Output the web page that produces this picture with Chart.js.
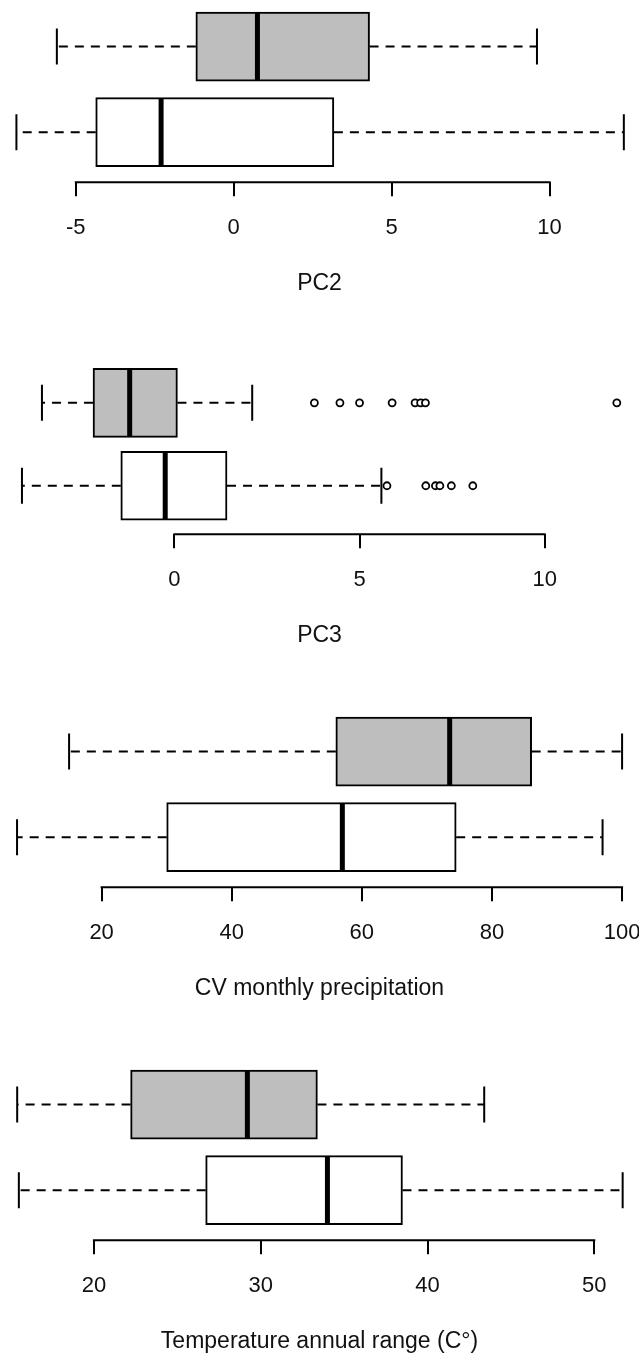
<!DOCTYPE html>
<html>
<head>
<meta charset="utf-8">
<script src="https://cdn.jsdelivr.net/npm/chart.js@4.4.1/dist/chart.umd.min.js"></script>
<style>
  html, body { margin: 0; padding: 0; background: #fff; width: 639px; height: 1355px; overflow: hidden; }
  .panel { position: absolute; left: -40px; width: 719px; }
</style>
</head>
<body>
<div class="panel" style="top:0px"><canvas id="pc2"></canvas></div>
<div class="panel" style="top:352px"><canvas id="pc3"></canvas></div>
<div class="panel" style="top:705px"><canvas id="cv"></canvas></div>
<div class="panel" style="top:1058px"><canvas id="temp"></canvas></div>
<script>
// box stats: [lower whisker, Q1, median, Q3, upper whisker]
// first row = grey box (top), second row = white box (bottom)
const pc2Grey = [-5.6, -1.2, 0.75, 4.3, 9.6];
const pc2White = [-6.88, -4.37, -2.3, 3.17, 12.35];
const pc2Ticks = [-5, 0, 5, 10];

const pc3Grey = [-3.58, -2.2, -1.21, 0.08, 2.1];
const pc3White = [-4.12, -1.45, -0.25, 1.42, 5.59];
const pc3GreyOut = [3.78, 4.47, 5.0, 5.88, 6.5, 6.65, 6.78, 11.95];
const pc3WhiteOut = [5.74, 6.79, 7.05, 7.17, 7.48, 8.06];
const pc3Ticks = [0, 5, 10];

const cvGrey = [15.0, 56.0, 73.5, 86.1, 100.0];
const cvWhite = [7.0, 30.0, 57.0, 74.5, 97.0];
const cvTicks = [20, 40, 60, 80, 100];

const tempGrey = [15.4, 22.2, 29.2, 33.4, 43.4];
const tempWhite = [15.5, 26.7, 34.0, 38.5, 51.7];
const tempTicks = [20, 30, 40, 50];

const titles = ["PC2", "PC3", "CV monthly precipitation", "Temperature annual range (C\u00B0)"];

// visible value range across the 639px page width, per panel
const pc2View = [-7.40, 12.83];
const pc3View = [-4.574, 12.41];
const cvView = [4.38, 102.6];
const tempView = [14.37, 52.68];

const PAGE_W = 639, BLEED = 40;
const AXIS_Y = 182;      // axis line position inside each canvas
const ROW_STEP = 85.5;   // px between the two boxes
const FIRST_ROW = 46.5;  // px from canvas top to grey box centre
const BOX_H = 69;
const CANVAS_H = 299;

const boxParts = {
  id: "boxParts",
  beforeDatasetsDraw(chart, args, opts) {
    const { ctx } = chart;
    const x = chart.scales.x, y = chart.scales.y;
    ctx.save();
    ctx.strokeStyle = "#000";
    ctx.lineWidth = 2;
    opts.stats.forEach((s, i) => {
      const py = y.getPixelForValue(i + 1);
      ctx.setLineDash([9, 7]);
      ctx.beginPath();
      ctx.moveTo(x.getPixelForValue(s[1]), py);
      ctx.lineTo(x.getPixelForValue(s[0]), py);
      ctx.moveTo(x.getPixelForValue(s[3]), py);
      ctx.lineTo(x.getPixelForValue(s[4]), py);
      ctx.stroke();
      ctx.setLineDash([]);
      ctx.beginPath();
      [s[0], s[4]].forEach(v => {
        const px = x.getPixelForValue(v);
        ctx.moveTo(px, py - 18);
        ctx.lineTo(px, py + 18);
      });
      ctx.stroke();
    });
    // R-style axis line, only from first to last tick
    const t = opts.ticks;
    const ay = chart.chartArea.bottom;
    ctx.beginPath();
    ctx.moveTo(x.getPixelForValue(t[0]) - 1, ay);
    ctx.lineTo(x.getPixelForValue(t[t.length - 1]) + 1, ay);
    ctx.stroke();
    ctx.restore();
  },
  afterDatasetsDraw(chart, args, opts) {
    const { ctx } = chart;
    const x = chart.scales.x, y = chart.scales.y;
    ctx.save();
    ctx.strokeStyle = "#000";
    ctx.lineWidth = 5;
    opts.stats.forEach((s, i) => {
      const py = y.getPixelForValue(i + 1);
      const px = x.getPixelForValue(s[2]);
      ctx.beginPath();
      ctx.moveTo(px, py - BOX_H / 2 + 1);
      ctx.lineTo(px, py + BOX_H / 2 - 1);
      ctx.stroke();
    });
    ctx.restore();
  }
};

function drawPanel(id, title, grey, white, ticks, view, greyOut, whiteOut) {
  const canvas = document.getElementById(id);
  canvas.width = PAGE_W + 2 * BLEED;
  canvas.height = CANVAS_H;
  const perPx = (view[1] - view[0]) / PAGE_W;
  const yMin = 1 - FIRST_ROW / ROW_STEP;
  const yMax = yMin + AXIS_Y / ROW_STEP;

  const datasets = [{
    type: "bar",
    data: [{ y: 1, x: [grey[1], grey[3]] }, { y: 2, x: [white[1], white[3]] }],
    backgroundColor: ["#bebebe", "#ffffff"],
    borderColor: "#000",
    borderWidth: 2,
    borderSkipped: false,
    barThickness: BOX_H
  }];
  const outliers = [];
  (greyOut || []).forEach(v => outliers.push({ x: v, y: 1 }));
  (whiteOut || []).forEach(v => outliers.push({ x: v, y: 2 }));
  if (outliers.length) {
    datasets.push({
      type: "scatter",
      data: outliers,
      pointRadius: 3.5,
      pointBorderWidth: 1.8,
      pointBorderColor: "#000",
      pointBackgroundColor: "#fff"
    });
  }

  new Chart(canvas, {
    type: "bar",
    data: { datasets },
    plugins: [boxParts],
    options: {
      responsive: false,
      animation: false,
      events: [],
      indexAxis: "y",
      layout: { padding: 0 },
      scales: {
        x: {
          type: "linear",
          position: "bottom",
          bounds: "data",
          min: view[0] - BLEED * perPx,
          max: view[1] + BLEED * perPx,
          afterBuildTicks: s => { s.ticks = ticks.map(v => ({ value: v })); },
          grid: { drawOnChartArea: false, drawTicks: true, tickLength: 14, color: "#000", lineWidth: 2 },
          border: { display: false },
          ticks: {
            padding: 18.8,
            color: "#111",
            font: { family: "'Liberation Sans', Arial, sans-serif", size: 22 },
            callback: v => String(v),
            maxRotation: 0,
            autoSkip: false
          },
          title: {
            display: true,
            text: title,
            color: "#111",
            font: { family: "'Liberation Sans', Arial, sans-serif", size: 23 },
            padding: { top: 9.2, bottom: 2 }
          }
        },
        y: {
          type: "linear",
          reverse: true,
          offset: false,
          min: yMin,
          max: yMax,
          display: false
        }
      },
      plugins: {
        legend: { display: false },
        tooltip: { enabled: false },
        boxParts: { stats: [grey, white], ticks }
      }
    }
  });
}

drawPanel("pc2", titles[0], pc2Grey, pc2White, pc2Ticks, pc2View);
drawPanel("pc3", titles[1], pc3Grey, pc3White, pc3Ticks, pc3View, pc3GreyOut, pc3WhiteOut);
drawPanel("cv", titles[2], cvGrey, cvWhite, cvTicks, cvView);
drawPanel("temp", titles[3], tempGrey, tempWhite, tempTicks, tempView);
</script>
</body>
</html>
